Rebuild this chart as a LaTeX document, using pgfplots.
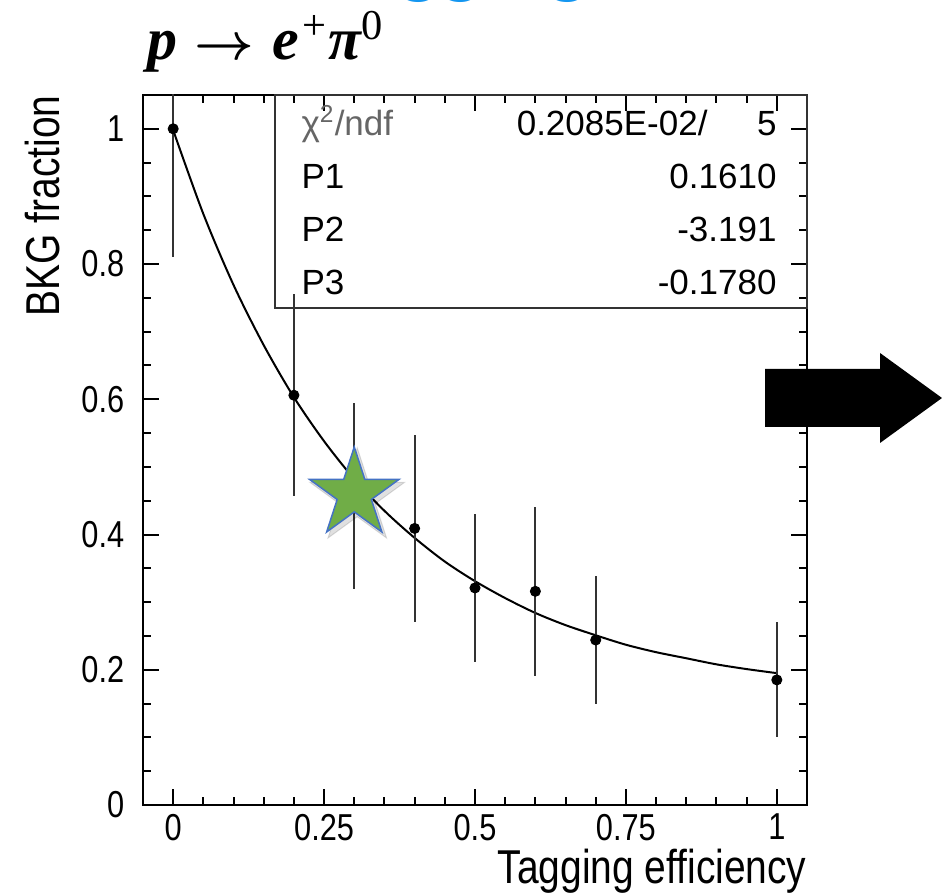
\documentclass[border=0pt]{standalone}
\usepackage{fontspec}
\setmainfont{Liberation Sans}
\newfontfamily\condsans[FakeStretch=0.82]{Liberation Sans}
\newfontfamily\titlefont{Liberation Serif}
\newfontfamily\calib{Carlito}
\usepackage{pgfplots}
\usepackage{pgfplotstable}
\pgfplotsset{compat=1.18}

\definecolor{stargreen}{HTML}{70AD47}
\definecolor{starblue}{HTML}{4472C4}
\definecolor{pptblue}{RGB}{20,150,240}

\pgfdeclareplotmark{bigstar}{%
  \pgfpathmoveto{\pgfpoint{0pt}{18.8pt}}%
  \pgfpathlineto{\pgfpoint{-4.22pt}{5.81pt}}%
  \pgfpathlineto{\pgfpoint{-17.88pt}{5.81pt}}%
  \pgfpathlineto{\pgfpoint{-6.83pt}{-2.22pt}}%
  \pgfpathlineto{\pgfpoint{-11.05pt}{-15.21pt}}%
  \pgfpathlineto{\pgfpoint{0pt}{-7.18pt}}%
  \pgfpathlineto{\pgfpoint{11.05pt}{-15.21pt}}%
  \pgfpathlineto{\pgfpoint{6.83pt}{-2.22pt}}%
  \pgfpathlineto{\pgfpoint{17.88pt}{5.81pt}}%
  \pgfpathlineto{\pgfpoint{4.22pt}{5.81pt}}%
  \pgfpathclose
  \pgfusepathqfillstroke}

\pgfplotstableread{
x    y      e
0.0  1.000  0.190
0.2  0.606  0.149
0.3  0.457  0.138
0.4  0.409  0.138
0.5  0.321  0.109
0.6  0.316  0.125
0.7  0.244  0.095
1.0  0.185  0.085
}\datatable

\begin{document}
\begin{tikzpicture}
\begin{axis}[
  at={(0,0)}, anchor=south west,
  scale only axis, width=265.6pt, height=284pt,
  xmin=-0.05, xmax=1.05, ymin=0, ymax=1.05,
  xtick={0,0.25,0.5,0.75,1},
  minor xtick={0,0.05,...,1.0},
  ytick={0,0.2,0.4,0.6,0.8,1},
  minor ytick={0,0.05,...,1.05},
  tick align=inside,
  major tick length=6.4pt, minor tick length=3.2pt,
  axis line style={line width=0.9pt},
  every tick/.style={black, line width=0.8pt},
  tick label style={font=\condsans\fontsize{15}{17}\selectfont},
  /pgf/number format/assume math mode=true,
  yticklabel style={xshift=-4pt},
  xlabel={Tagging efficiency}, ylabel={BKG fraction},
  label style={font=\condsans\fontsize{19}{21}\selectfont},
  xlabel style={at={(axis description cs:1,0)}, anchor=north east, inner sep=0pt, yshift=-17.5pt},
  ylabel style={at={(axis description cs:-0.125,1)}, anchor=south east, inner sep=0pt},
]
\addplot[black, line width=0.8pt, smooth] coordinates {
(0,0.998) (0.05,0.874) (0.1,0.769) (0.15,0.680) (0.2,0.603) (0.25,0.538)
(0.3,0.482) (0.35,0.435) (0.4,0.395) (0.45,0.360) (0.5,0.331) (0.55,0.306)
(0.6,0.284) (0.65,0.266) (0.7,0.251) (0.75,0.237) (0.8,0.226) (0.85,0.217)
(0.9,0.208) (0.95,0.201) (1.0,0.195)};
\addplot[only marks, mark=*, mark size=2pt, black,
  error bars/.cd, y dir=both, y explicit, error mark=none,
  error bar style={line width=0.8pt, black!80}]
  table[x=x, y=y, y error=e] {\datatable};
\addplot[only marks, mark=bigstar, mark options={fill=black, draw=none, opacity=0.12, xshift=1.2pt, yshift=-1.5pt, scale=1.06}]
  coordinates {(0.3,0.46)};
\addplot[only marks, mark=bigstar, mark options={fill=stargreen, draw=starblue, line width=0.6pt}]
  coordinates {(0.3,0.46)};
\end{axis}
% stats box
\draw[line width=0.6pt, black!80] (52.8pt,198.8pt) rectangle (265.6pt,284pt);
\begin{scope}[every node/.style={inner sep=0pt, font=\fontsize{14}{16}\selectfont}]
\node[anchor=base west, text=black!60] at (63.2pt,267.6pt) {χ\textsuperscript{2}/ndf};
\node[anchor=base east] at (226pt,267.6pt) {0.2085E-02/};
\node[anchor=base east] at (253.6pt,267.6pt) {5};
\node[anchor=base west] at (63.2pt,246.4pt) {P1};
\node[anchor=base east] at (253.6pt,246.4pt) {0.1610};
\node[anchor=base west] at (63.2pt,225.2pt) {P2};
\node[anchor=base east] at (253.6pt,225.2pt) {-3.191};
\node[anchor=base west] at (63.2pt,204pt) {P3};
\node[anchor=base east] at (253.6pt,204pt) {-0.1780};
\end{scope}
% title
\node[anchor=base west, inner sep=0pt] at (1.6pt,298pt)
  {\titlefont\fontsize{24}{28}\selectfont\bfseries\itshape p\hspace{7pt}{\fontsize{20}{20}\selectfont\boldmath$\rightarrow$}\hspace{7pt}e\hspace{1.5pt}\raisebox{8pt}{\fontsize{17}{17}\selectfont\upshape\mdseries +}\hspace{1pt}π\raisebox{8pt}{\fontsize{17}{17}\selectfont\upshape\mdseries 0}};
% blue text partly cut
\node[anchor=base west, inner sep=0pt, text=pptblue] at (70.8pt,326.8pt)
  {\calib\fontsize{35}{40}\selectfont Tagging};
% arrow
\fill[black] (248.8pt,174.4pt) -- (294.8pt,174.4pt) -- (294.8pt,180.8pt) -- (319.6pt,162.8pt)
  -- (294.8pt,144.8pt) -- (294.8pt,151.2pt) -- (248.8pt,151.2pt) -- cycle;
\pgfresetboundingbox
\path[use as bounding box] (-57.2pt,-36pt) rectangle (319.6pt,322pt);
\end{tikzpicture}
\end{document}
